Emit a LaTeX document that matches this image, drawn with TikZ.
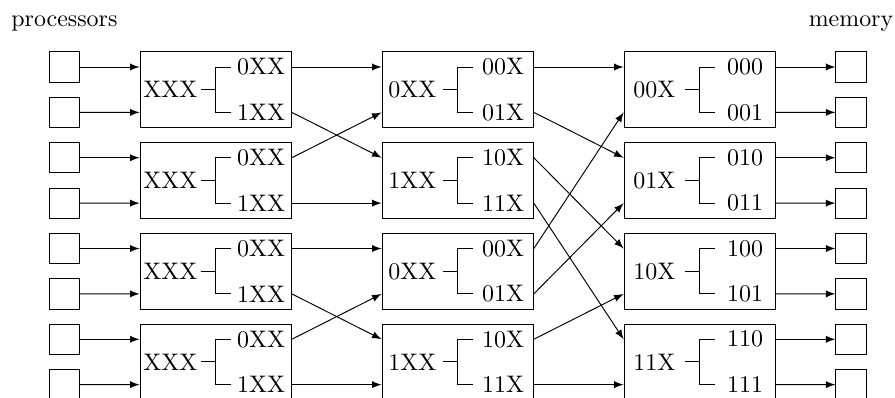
\documentclass[tikz,border=0pt]{standalone}
\usetikzlibrary{positioning,calc}
\begin{document}
\begin{tikzpicture}[x=0.2222cm,y=0.2222cm,>=latex,
		cell/.style={draw,inner sep=0pt,minimum size=0.4444cm},
		switch/.style={draw,inner sep=0pt,minimum width=2.2222cm,minimum height=1.1111cm}]
		\useasboundingbox (-4.26,4.43) rectangle (54.91,-21.88);

		% processors and memory cells
		\foreach \r in {0,...,7} {
			\node[cell] (p\r) at (0,-3*\r) {};
			\node[cell] (m\r) at (52,-3*\r) {};
		}
		\node[anchor=base] (proc) at (0,2.7) {processors};
		\node[anchor=base] (mem) at (52,2.7) {memory};

		% switches
		\foreach \s/\k/\x/\lbl/\ta/\tb in {
			1/0/10/XXX/0XX/1XX, 1/1/10/XXX/0XX/1XX, 1/2/10/XXX/0XX/1XX, 1/3/10/XXX/0XX/1XX,
			2/0/26/0XX/00X/01X, 2/1/26/1XX/10X/11X, 2/2/26/0XX/00X/01X, 2/3/26/1XX/10X/11X,
			3/0/42/00X/000/001, 3/1/42/01X/010/011, 3/2/42/10X/100/101, 3/3/42/11X/110/111} {
			\node[switch] (b\s\k) at (\x,-6*\k-1.5) {};
			\node (l\s\k) at ($(b\s\k.center)+(-3,0)$) {\lbl};
			\node (t\s\k) at ($(b\s\k.center)+(3,1.5)$) {\ta};
			\node (u\s\k) at ($(b\s\k.center)+(3,-1.5)$) {\tb};
			\draw ($(b\s\k.center)+(-1,0)$) -- (b\s\k.center);
			\draw ($(b\s\k.center)+(1,1.5)$) -| (b\s\k.center) |- ($(b\s\k.center)+(1,-1.5)$);
			\pgfmathtruncatemacro\ra{2*\k}
			\pgfmathtruncatemacro\rb{2*\k+1}
			\coordinate (in\s-\ra) at ($(b\s\k.west)+(0,1.5)$);
			\coordinate (in\s-\rb) at ($(b\s\k.west)+(0,-1.5)$);
			\coordinate (out\s-\ra) at ($(b\s\k.east)+(0,1.5)$);
			\coordinate (out\s-\rb) at ($(b\s\k.east)+(0,-1.5)$);
		}

		% wiring
		\foreach \r in {0,...,7} {
			\draw[->] (p\r) -- (in1-\r);
			\draw[->] (out3-\r) -- (m\r);
		}
		\foreach \a/\b in {0/0,1/2,2/1,3/3,4/4,5/6,6/5,7/7}
			\draw[->] (out1-\a) -- (in2-\b);
		\foreach \a/\b in {0/0,1/2,2/4,3/6,4/1,5/3,6/5,7/7}
			\draw[->] (out2-\a) -- (in3-\b);
	\end{tikzpicture}
\end{document}
